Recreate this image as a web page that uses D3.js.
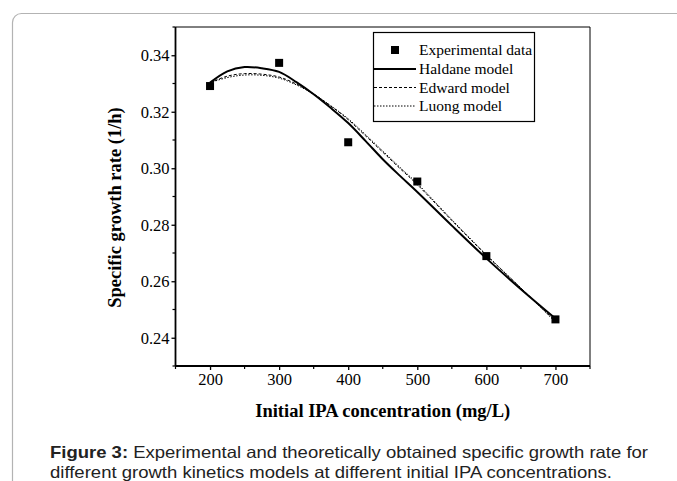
<!DOCTYPE html>
<html>
<head>
<meta charset="utf-8">
<script src="https://cdn.jsdelivr.net/npm/d3@7"></script>
<style>
  html, body { margin: 0; padding: 0; background: #fff; }
  svg { display: block; }
</style>
</head>
<body>
<svg id="chart" width="677" height="481"></svg>
<script>
// ---------- data ----------
const expX = [200, 300, 400, 500, 600, 700];
const expY = [0.3291, 0.3373, 0.3092, 0.2953, 0.2689, 0.2465];

const curveX   = [200, 225, 250, 275, 300, 325, 350, 375, 400, 425, 450, 475, 500, 550, 600, 650, 700];
const haldaneY = [0.3303, 0.3343, 0.3358, 0.3354, 0.3341, 0.3305, 0.3262, 0.3213, 0.3160, 0.3097, 0.3032, 0.2973, 0.2916, 0.2797, 0.2681, 0.2572, 0.2468];
const edwardY  = [0.3303, 0.3326, 0.3335, 0.3333, 0.3323, 0.3298, 0.3263, 0.3220, 0.3172, 0.3115, 0.3057, 0.2999, 0.2942, 0.2815, 0.2692, 0.2576, 0.2459];
const luongY   = [0.3303, 0.3321, 0.3330, 0.3329, 0.3319, 0.3295, 0.3262, 0.3221, 0.3175, 0.3119, 0.3061, 0.3003, 0.2946, 0.2818, 0.2694, 0.2576, 0.2455];

const xTicks = [200, 300, 400, 500, 600, 700];
const xMinor = [150, 250, 350, 450, 550, 650, 750];
const yTicks = [0.24, 0.26, 0.28, 0.30, 0.32, 0.34];
const yMinor = [0.23, 0.25, 0.27, 0.29, 0.31, 0.33, 0.35];

const legendLabels = ["Experimental data", "Haldane model", "Edward model", "Luong model"];
const xTitle = "Initial IPA concentration (mg/L)";
const yTitle = "Specific growth rate (1/h)";
const captionBold = "Figure 3:";
const captionRest = " Experimental and theoretically obtained specific growth rate for";
const captionLine2 = "different growth kinetics models at different initial IPA concentrations.";

// ---------- layout ----------
const svg = d3.select("#chart");
const L = 175.5, R = 590, T = 27, B = 366;
const serif = "'Liberation Serif', 'Times New Roman', serif";
const sans = "'Liberation Sans', Arial, sans-serif";

// outer frame
svg.append("rect")
  .attr("x", 12.5).attr("y", 13.5).attr("width", 720).attr("height", 520)
  .attr("rx", 9).attr("ry", 9)
  .attr("fill", "none").attr("stroke", "#b3b3b3").attr("stroke-width", 1.2);

const x = d3.scaleLinear().domain([150, 750]).range([L, R]);
const y = d3.scaleLinear().domain([0.23, 0.35]).range([B, T]);

// frame top/right
svg.append("line").attr("x1", L).attr("x2", R).attr("y1", T).attr("y2", T)
  .attr("stroke", "#000").attr("stroke-width", 1);
svg.append("line").attr("x1", R).attr("x2", R).attr("y1", T).attr("y2", B)
  .attr("stroke", "#000").attr("stroke-width", 1);

// axes
const xAxis = d3.axisBottom(x).tickValues(xTicks).tickSize(4).tickPadding(3).tickFormat(d3.format("d"));
const yAxis = d3.axisLeft(y).tickValues(yTicks).tickSize(4).tickPadding(2).tickFormat(d3.format(".2f"));

const gx = svg.append("g").attr("transform", `translate(0,${B})`).call(xAxis);
const gy = svg.append("g").attr("transform", `translate(${L},0)`).call(yAxis);
[gx, gy].forEach(g => {
  g.select(".domain").attr("stroke", "#000").attr("stroke-width", 1.8);
  g.selectAll(".tick line").attr("stroke", "#000").attr("stroke-width", 1.3);
  g.selectAll(".tick text").attr("fill", "#000")
    .style("font-family", serif).style("font-size", "16.5px");
});
gx.select(".domain").attr("d", `M${L},0H${R}`);
gy.select(".domain").attr("d", `M0,${B}V${T}`);

// minor ticks
svg.append("g").selectAll("line").data(xMinor).join("line")
  .attr("x1", d => x(d)).attr("x2", d => x(d)).attr("y1", B).attr("y2", B + 3)
  .attr("stroke", "#000").attr("stroke-width", 1.2);
svg.append("g").selectAll("line").data(yMinor).join("line")
  .attr("x1", L - 3).attr("x2", L).attr("y1", d => y(d)).attr("y2", d => y(d))
  .attr("stroke", "#000").attr("stroke-width", 1.2);

// axis titles
svg.append("text").attr("x", (L + R) / 2).attr("y", 417).attr("text-anchor", "middle")
  .style("font-family", serif).style("font-weight", "bold").style("font-size", "18.5px")
  .attr("fill", "#000").text(xTitle);
svg.append("text").attr("transform", `translate(121,${(T + B) / 2 + 11}) rotate(-90)`)
  .attr("text-anchor", "middle")
  .style("font-family", serif).style("font-weight", "bold").style("font-size", "18.5px")
  .attr("fill", "#000").text(yTitle);

// curves
const line = d3.line().x(d => x(d[0])).y(d => y(d[1])).curve(d3.curveCatmullRom.alpha(0.5));
const mk = ys => curveX.map((v, i) => [v, ys[i]]);
svg.append("path").datum(mk(luongY)).attr("d", line)
  .attr("fill", "none").attr("stroke", "#000").attr("stroke-width", 1).attr("stroke-dasharray", "1.5,1.5");
svg.append("path").datum(mk(edwardY)).attr("d", line)
  .attr("fill", "none").attr("stroke", "#000").attr("stroke-width", 1).attr("stroke-dasharray", "3,2");
svg.append("path").datum(mk(haldaneY)).attr("d", line)
  .attr("fill", "none").attr("stroke", "#000").attr("stroke-width", 2);

// experimental points
const sq = 8;
svg.append("g").selectAll("rect").data(expX.map((v, i) => [v, expY[i]])).join("rect")
  .attr("x", d => x(d[0]) - sq / 2).attr("y", d => y(d[1]) - sq / 2)
  .attr("width", sq).attr("height", sq).attr("fill", "#000");

// legend
const lg = svg.append("g");
lg.append("rect").attr("x", 373.5).attr("y", 32.5).attr("width", 161).attr("height", 89)
  .attr("fill", "#fff").attr("stroke", "#000").attr("stroke-width", 1.2);
const rows = [50, 69, 87.5, 106];
lg.append("rect").attr("x", 395 - 4).attr("y", rows[0] - 4).attr("width", 8).attr("height", 8).attr("fill", "#000");
const styles = [null, {w: 2, dash: null}, {w: 1, dash: "3,2"}, {w: 1, dash: "1.5,1.5"}];
for (let i = 1; i < 4; i++) {
  lg.append("line").attr("x1", 374).attr("x2", 416).attr("y1", rows[i]).attr("y2", rows[i])
    .attr("stroke", "#000").attr("stroke-width", styles[i].w)
    .attr("stroke-dasharray", styles[i].dash);
}
legendLabels.forEach((t, i) => {
  lg.append("text").attr("x", 419).attr("y", rows[i] + 5)
    .style("font-family", serif).style("font-size", "15.5px").attr("fill", "#000").text(t);
});

// caption
const cap = svg.append("text").attr("x", 50).attr("y", 458)
  .attr("textLength", 598).attr("lengthAdjust", "spacingAndGlyphs")
  .style("font-family", sans).style("font-size", "16.5px").attr("fill", "#222");
cap.append("tspan").style("font-weight", "bold").text(captionBold);
cap.append("tspan").text(captionRest);
svg.append("text").attr("x", 50).attr("y", 478)
  .attr("textLength", 562).attr("lengthAdjust", "spacingAndGlyphs")
  .style("font-family", sans).style("font-size", "16.5px").attr("fill", "#222").text(captionLine2);
</script>
</body>
</html>
